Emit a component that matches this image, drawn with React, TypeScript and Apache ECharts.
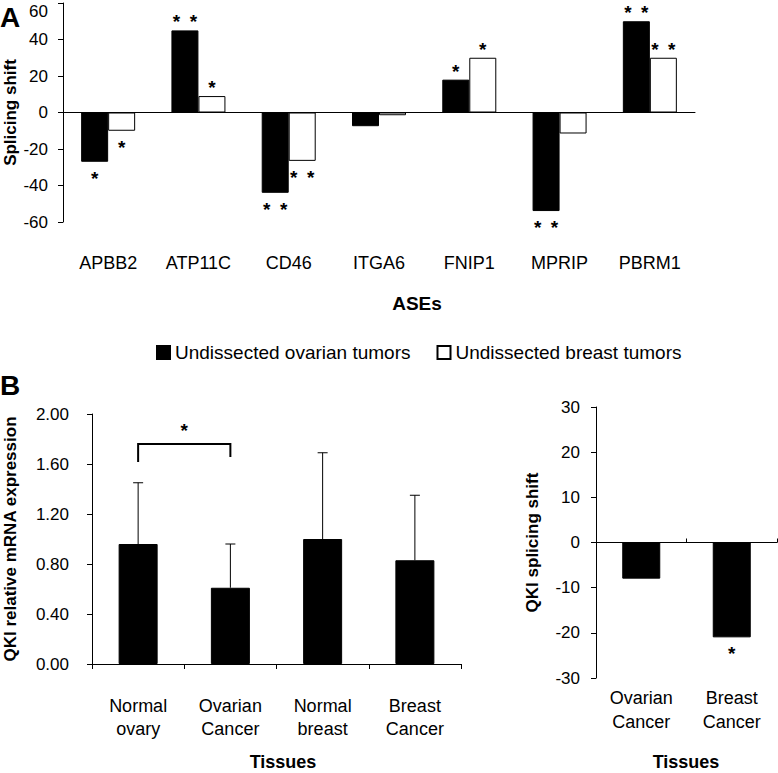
import React, { useEffect, useRef } from "react";
import * as echarts from "echarts";

const aseCategories = ["APBB2", "ATP11C", "CD46", "ITGA6", "FNIP1", "MPRIP", "PBRM1"];
const ovarianShift = [-27, 45, -44, -7.5, 18, -54, 50];
const breastShift = [-10, 9, -26.5, -1.5, 30, -11.5, 30];
const ovarianSig = ["*", "**", "**", "", "*", "**", "**"];
const breastSig = ["*", "*", "**", "", "*", "", "**"];
const shiftTicks = [-60, -40, -20, 0, 20, 40, 60];

const tissues = ["Normal\novary", "Ovarian\nCancer", "Normal\nbreast", "Breast\nCancer"];
const mrnaMean = [0.96, 0.61, 1.0, 0.83];
const mrnaSD = [0.49, 0.35, 0.69, 0.52];
const mrnaTicks = [0, 0.4, 0.8, 1.2, 1.6, 2.0];
// [fromIndex, toIndex, bracketLevel, leftLegEnd, rightLegEnd]
const bracket = [[0, 1, 1.76, 1.616, 1.656]];
const bracketSig = ["*"];

const cancerTissues = ["Ovarian\nCancer", "Breast\nCancer"];
const qkiShift = [-8, -21];
const qkiSig = ["", "*"];
const qkiTicks = [-30, -20, -10, 0, 10, 20, 30];

const FONT = "'Liberation Sans', Arial, sans-serif";

const sigText = (s: string) => s.split("").join("\u2002");

function withLabels(values: number[], sigs: string[]) {
  return values.map((v, i) => ({
    value: v,
    label: {
      show: !!sigs[i],
      formatter: sigText(sigs[i] || ""),
      position: v >= 0 ? "top" : "bottom",
      distance: v >= 0 ? -1 : 7,
      fontSize: 19,
      fontWeight: "bold",
      color: "#000",
      fontFamily: FONT,
    },
  }));
}

const yAxisBase = (gridIndex: number, ticks: number[], margin: number) => ({
  type: "value",
  gridIndex,
  min: ticks[0],
  max: ticks[ticks.length - 1],
  interval: ticks[1] - ticks[0],
  splitLine: { show: false },
  axisLine: { show: true, lineStyle: { color: "#000", width: 1 } },
  axisTick: { show: true, length: 5, lineStyle: { color: "#000" } },
  axisLabel: { color: "#000", fontSize: 17, margin, fontFamily: FONT },
  nameLocation: "middle",
  nameMoveOverlap: false,
  nameTextStyle: { color: "#000", fontSize: 17, fontWeight: "bold", fontFamily: FONT },
});

export default function App() {
  const ref = useRef<HTMLDivElement>(null);
  useEffect(() => {
    if (!ref.current) return;
    const chart = echarts.init(ref.current, null, { renderer: "svg" });
    const option: any = {
      animation: false,
      textStyle: { fontFamily: FONT },
      legend: {
        data: ["Undissected ovarian tumors", "Undissected breast tumors"],
        left: 151,
        top: 338,
        itemWidth: 13,
        itemHeight: 13,
        itemGap: 26,
        icon: "rect",
        selectedMode: false,
        textStyle: { fontSize: 19, color: "#000", fontFamily: FONT },
      },
      grid: [
        { left: 63, top: 3, width: 632, height: 219, outerBoundsMode: "none", containLabel: false },
        { left: 92, top: 414, width: 369, height: 250, outerBoundsMode: "none", containLabel: false },
        { left: 596, top: 407, width: 181, height: 271, outerBoundsMode: "none", containLabel: false },
      ],
      xAxis: [
        {
          type: "category",
          gridIndex: 0,
          data: aseCategories,
          position: "bottom",
          axisLine: { show: false, onZero: false },
          axisTick: { show: false },
          axisLabel: { color: "#000", fontSize: 18, margin: 32, fontFamily: FONT },
        },
        {
          type: "category",
          gridIndex: 0,
          data: aseCategories,
          axisLine: { show: true, onZero: true, lineStyle: { color: "#000", width: 1 } },
          axisTick: { show: false },
          axisLabel: { show: false },
        },
        {
          type: "category",
          gridIndex: 1,
          data: tissues,
          position: "bottom",
          axisLine: { show: true, lineStyle: { color: "#000", width: 1 } },
          axisTick: { show: true, length: 5, lineStyle: { color: "#000" } },
          axisLabel: { color: "#000", fontSize: 18, lineHeight: 23, margin: 30, fontFamily: FONT },
        },
        {
          type: "category",
          gridIndex: 2,
          data: cancerTissues,
          position: "bottom",
          axisLine: { show: false, onZero: false },
          axisTick: { show: false },
          axisLabel: { color: "#000", fontSize: 18, lineHeight: 24, margin: 8, fontFamily: FONT },
        },
        {
          type: "category",
          gridIndex: 2,
          data: cancerTissues,
          axisLine: { show: true, onZero: true, lineStyle: { color: "#000", width: 1 } },
          axisTick: { show: true, length: 4, lineStyle: { color: "#000" } },
          axisLabel: { show: false },
        },
      ],
      yAxis: [
        {
          ...yAxisBase(0, shiftTicks, 15),
          axisLabel: { color: "#000", fontSize: 17, margin: 15, fontFamily: FONT, verticalAlignMaxLabel: "top" },
          name: "Splicing shift",
          nameGap: 44,
        },
        {
          ...yAxisBase(1, mrnaTicks, 23),
          axisLabel: {
            color: "#000",
            fontSize: 17,
            margin: 23,
            fontFamily: FONT,
            formatter: (v: number) => v.toFixed(2),
          },
          name: "QKI relative mRNA expression",
          nameGap: 73,
        },
        { ...yAxisBase(2, qkiTicks, 16), name: "QKI splicing shift", nameGap: 55 },
      ],
      series: [
        {
          name: "Undissected ovarian tumors",
          type: "bar",
          xAxisIndex: 0,
          yAxisIndex: 0,
          barWidth: 27,
          barGap: "0%",
          itemStyle: { color: "#000", borderColor: "#000", borderWidth: 1 },
          data: withLabels(ovarianShift, ovarianSig),
        },
        {
          name: "Undissected breast tumors",
          type: "bar",
          xAxisIndex: 0,
          yAxisIndex: 0,
          barWidth: 27,
          barGap: "0%",
          itemStyle: { color: "#fff", borderColor: "#000", borderWidth: 1 },
          data: withLabels(breastShift, breastSig),
        },
        {
          name: "mrna",
          type: "bar",
          xAxisIndex: 2,
          yAxisIndex: 1,
          barWidth: 39,
          itemStyle: { color: "#000", borderColor: "#000", borderWidth: 1 },
          data: mrnaMean,
        },
        {
          name: "mrnaErr",
          type: "custom",
          xAxisIndex: 2,
          yAxisIndex: 1,
          data: mrnaMean.map((m, i) => [i, m, m + mrnaSD[i]]),
          renderItem: (params: any, api: any) => {
            const i = api.value(0);
            const p0 = api.coord([i, api.value(1)]);
            const p1 = api.coord([i, api.value(2)]);
            return {
              type: "group",
              children: [
                { type: "line", shape: { x1: p0[0], y1: p0[1], x2: p1[0], y2: p1[1] }, style: { stroke: "#000", lineWidth: 1 } },
                { type: "line", shape: { x1: p1[0] - 5, y1: p1[1], x2: p1[0] + 5, y2: p1[1] }, style: { stroke: "#000", lineWidth: 1 } },
              ],
            };
          },
          z: 3,
        },
        {
          name: "bracket",
          type: "custom",
          xAxisIndex: 2,
          yAxisIndex: 1,
          data: bracket,
          renderItem: (params: any, api: any) => {
            const a = api.value(0);
            const b = api.value(1);
            const lvl = api.value(2);
            const pl = api.coord([a, lvl]);
            const pr = api.coord([b, lvl]);
            const pla = api.coord([a, api.value(3)]);
            const prb = api.coord([b, api.value(4)]);
            return {
              type: "group",
              children: [
                {
                  type: "polyline",
                  shape: { points: [[pla[0], pla[1]], [pl[0], pl[1]], [pr[0], pr[1]], [prb[0], prb[1]]] },
                  style: { stroke: "#000", lineWidth: 2, fill: "none" },
                },
                {
                  type: "text",
                  style: {
                    text: bracketSig[params.dataIndex],
                    x: (pl[0] + pr[0]) / 2,
                    y: pl[1] - 4,
                    align: "center",
                    verticalAlign: "bottom",
                    fontSize: 19,
                    fontWeight: "bold",
                    fontFamily: FONT,
                    fill: "#000",
                  },
                },
              ],
            };
          },
        },
        {
          name: "qki",
          type: "bar",
          xAxisIndex: 3,
          yAxisIndex: 2,
          barWidth: 38,
          itemStyle: { color: "#000", borderColor: "#000", borderWidth: 1 },
          data: withLabels(qkiShift, qkiSig),
        },
      ],
      graphic: [
        { type: "text", x: 0, y: 3, style: { text: "A", fontSize: 28, fontWeight: "bold", fontFamily: FONT, fill: "#000" } },
        { type: "text", x: 0, y: 371, style: { text: "B", fontSize: 28, fontWeight: "bold", fontFamily: FONT, fill: "#000" } },
        { type: "text", x: 417, y: 303, style: { text: "ASEs", align: "center", verticalAlign: "middle", fontSize: 19, fontWeight: "bold", fontFamily: FONT, fill: "#000" } },
        { type: "text", x: 283, y: 762, style: { text: "Tissues", align: "center", verticalAlign: "middle", fontSize: 18, fontWeight: "bold", fontFamily: FONT, fill: "#000" } },
        { type: "text", x: 686, y: 762, style: { text: "Tissues", align: "center", verticalAlign: "middle", fontSize: 18, fontWeight: "bold", fontFamily: FONT, fill: "#000" } },
      ],
    };
    chart.setOption(option);
    return () => chart.dispose();
  }, []);
  return <div ref={ref} style={{ position: "fixed", left: 0, top: 0, width: 778, height: 773, background: "#fff" }} />;
}
